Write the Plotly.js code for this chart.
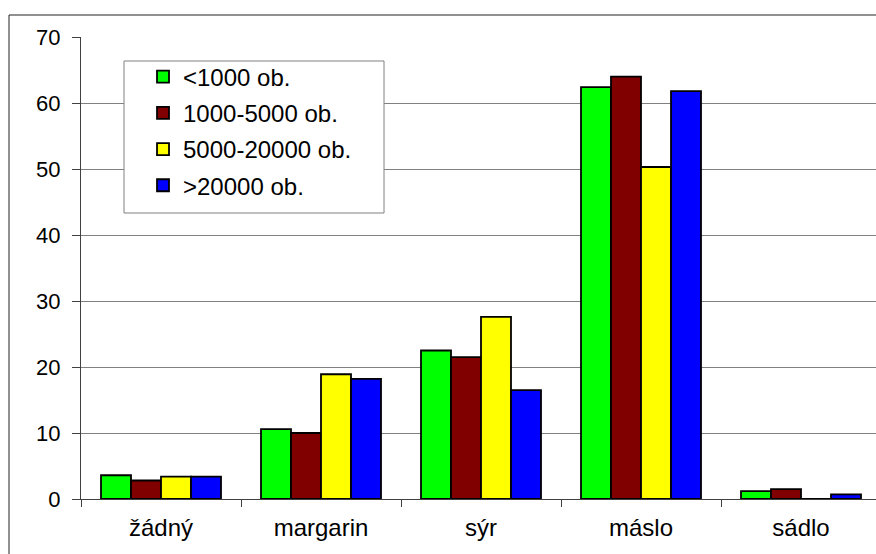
<!DOCTYPE html>
<html>
<head>
<meta charset="utf-8">
<script src="https://cdn.plot.ly/plotly-3.0.1.min.js"></script>
<style>
html,body{margin:0;padding:0;background:#fff;}
#chart{width:876px;height:554px;}
</style>
</head>
<body>
<div id="chart"></div>
<script>
var categories = ["žádný", "margarin", "sýr", "máslo", "sádlo"];
var seriesNames = ["<1000 ob.", "1000-5000 ob.", "5000-20000 ob.", ">20000 ob."];
var seriesColors = ["#00FF00", "#800000", "#FFFF00", "#0000FF"];
var vUnder1000 = [3.6, 10.6, 22.5, 62.4, 1.2];
var v1000to5000 = [2.8, 10.0, 21.5, 64.0, 1.5];
var v5000to20000 = [3.4, 18.9, 27.6, 50.3, 0];
var vOver20000 = [3.4, 18.2, 16.5, 61.8, 0.7];
var yTicks = [0, 10, 20, 30, 40, 50, 60, 70];

var allValues = [vUnder1000, v1000to5000, v5000to20000, vOver20000];
var traces = allValues.map(function (vals, i) {
  return {
    type: "bar",
    x: categories,
    y: vals,
    name: seriesNames[i],
    legendgroup: "g" + i,
    marker: { color: seriesColors[i], line: { color: "#000", width: 1.8 } },
    hoverinfo: "x+y+name"
  };
});

var font = "Liberation Sans, Arial, sans-serif";
var layout = {
  width: 876,
  height: 554,
  margin: { l: 81, r: 0, t: 37, b: 55 },
  paper_bgcolor: "#fff",
  plot_bgcolor: "#fff",
  barmode: "group",
  bargap: 0.25,
  bargroupgap: 0,
  font: { family: font, color: "#000", size: 20 },
  showlegend: true,
  legend: {
    x: 0.078, y: 0.962, xanchor: "left", yanchor: "top",
    bgcolor: "rgba(0,0,0,0)", borderwidth: 0,
    font: { family: font, size: 24, color: "#000" },
    traceorder: "grouped", tracegroupgap: 2
  },
  xaxis: {
    type: "category",
    categoryorder: "array",
    categoryarray: categories,
    range: [-0.5, 4.5 - 5 / 160],
    tickson: "boundaries",
    ticks: "outside", ticklen: 7, tickcolor: "#404040", tickwidth: 1,
    showline: true, linecolor: "#404040", linewidth: 1,
    showgrid: false, zeroline: false,
    ticklabelstandoff: 7,
    tickfont: { family: font, size: 24, color: "#000" },
    fixedrange: true
  },
  yaxis: {
    range: [0, 70],
    tickvals: yTicks,
    ticktext: yTicks.map(String),
    ticks: "outside", ticklen: 8, tickcolor: "#404040", tickwidth: 1,
    showline: true, linecolor: "#404040", linewidth: 1,
    showgrid: true, gridcolor: "#808080", gridwidth: 1,
    zeroline: false,
    ticklabelstandoff: 7,
    tickfont: { family: font, size: 22, color: "#000" },
    fixedrange: true
  },
  shapes: [
    { type: "rect", xref: "paper", yref: "paper", layer: "above",
      x0: (124 - 81) / 795, x1: (384 - 81) / 795,
      y0: 1 - (213 - 37) / 462, y1: 1 - (61 - 37) / 462,
      fillcolor: "#fff", line: { color: "#808080", width: 1 } },
    { type: "rect", xref: "paper", yref: "paper", layer: "above",
      x0: (9 - 81) / 795, x1: 1.2,
      y0: -0.3, y1: 1 + (37 - 15) / 462,
      fillcolor: "rgba(0,0,0,0)", line: { color: "#222", width: 1 } }
  ]
};

Plotly.newPlot("chart", traces, layout, { displayModeBar: false, staticPlot: true });
</script>
</body>
</html>
